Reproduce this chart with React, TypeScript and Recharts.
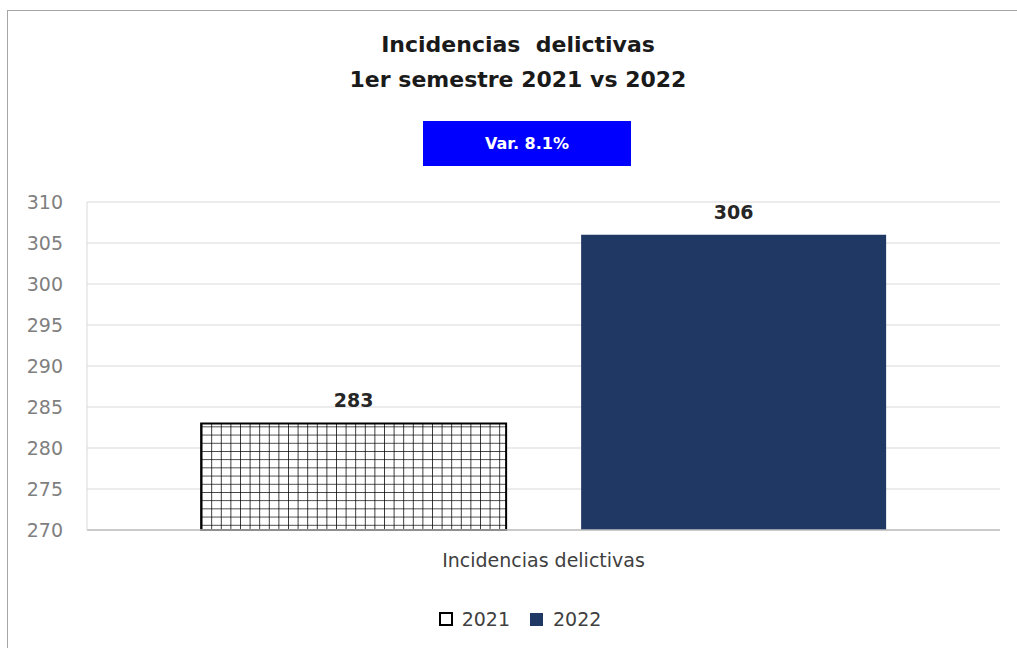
import React from "react";
import { BarChart, Bar, XAxis, YAxis, CartesianGrid, LabelList } from "recharts";

const categories = ["Incidencias delictivas"];
const values2021 = [283];
const values2022 = [306];
const yTicks = [270, 275, 280, 285, 290, 295, 300, 305, 310];
const seriesNames = ["2021", "2022"];
const varLabel = "Var. 8.1%";
const titleLines = ["Incidencias  delictivas", "1er semestre 2021 vs 2022"];

const data = categories.map((c, i) => ({
  name: c,
  y2021: values2021[i],
  y2022: values2022[i],
}));

const FONT = "'DejaVu Sans', 'Open Sans', Arial, sans-serif";
const NAVY = "#203864";

export default function App() {
  return (
    <div
      style={{
        position: "absolute",
        left: 0,
        top: 0,
        width: 1017,
        height: 648,
        overflow: "hidden",
        background: "#fff",
        fontFamily: FONT,
      }}
    >
      {/* frame */}
      <div
        style={{
          position: "absolute",
          left: 7,
          top: 10,
          width: 1100,
          height: 700,
          border: "1.5px solid #a6a6a6",
          boxSizing: "border-box",
        }}
      />
      {/* title */}
      <div
        style={{
          position: "absolute",
          left: 0,
          width: 1036,
          top: 27,
          textAlign: "center",
          fontWeight: 700,
          fontSize: 22,
          lineHeight: "35px",
          color: "#1a1a1a",
          whiteSpace: "pre",
        }}
      >
        {titleLines.map((t) => (
          <div key={t}>{t}</div>
        ))}
      </div>
      {/* variation box */}
      <div
        style={{
          position: "absolute",
          left: 423,
          top: 121,
          width: 208,
          height: 45,
          background: "#0000ff",
          color: "#fff",
          fontWeight: 700,
          fontSize: 16,
          lineHeight: "45px",
          textAlign: "center",
        }}
      >
        {varLabel}
      </div>
      <div style={{ position: "absolute", left: 0, top: 0 }}>
        <BarChart
          width={1017}
          height={648}
          data={data}
          margin={{ top: 202, right: 17, left: 27, bottom: 78 }}
          barCategoryGap="12.5%"
          barGap={75}
        >
          <defs>
            <pattern id="grid2021" patternUnits="userSpaceOnUse" width="9.6" height="8.2">
              <rect width="9.6" height="8.2" fill="#fff" />
              <path d="M0 0 H9.6 M0 0 V8.2" stroke="#000" strokeWidth="1.5" fill="none" />
            </pattern>
          </defs>
          <CartesianGrid vertical={false} stroke="#d9d9d9" strokeWidth={1.2} />
          <XAxis
            dataKey="name"
            height={40}
            tickSize={0}
            tickMargin={24}
            axisLine={{ stroke: "#bfbfbf", strokeWidth: 1.5 }}
            tickLine={false}
            tick={{ fill: "#404040", fontSize: 19, fontFamily: FONT }}
          />
          <YAxis
            width={60}
            domain={[270, 310]}
            ticks={yTicks}
            interval={0}
            tickSize={0}
            tickMargin={24}
            axisLine={{ stroke: "#d9d9d9" }}
            tickLine={false}
            tick={{ fill: "#7f7f7f", fontSize: 19, fontFamily: FONT }}
          />
          <Bar
            dataKey="y2021"
            name={seriesNames[0]}
            fill="url(#grid2021)"
            stroke="#000"
            strokeWidth={2}
            isAnimationActive={false}
          >
            <LabelList
              dataKey="y2021"
              position="top"
              offset={16}
              style={{ fill: "#262626", fontWeight: 700, fontSize: 19, fontFamily: FONT }}
            />
          </Bar>
          <Bar dataKey="y2022" name={seriesNames[1]} fill={NAVY} isAnimationActive={false}>
            <LabelList
              dataKey="y2022"
              position="top"
              offset={16}
              style={{ fill: "#262626", fontWeight: 700, fontSize: 19, fontFamily: FONT }}
            />
          </Bar>
        </BarChart>
      </div>
      {/* legend */}
      <div
        style={{
          position: "absolute",
          left: 0,
          width: 1040,
          top: 606,
          display: "flex",
          justifyContent: "center",
          alignItems: "center",
          fontSize: 19,
          color: "#404040",
          lineHeight: "26px",
        }}
      >
        <span style={{ display: "inline-flex", alignItems: "center", marginRight: 20 }}>
          <span
            style={{
              width: 14,
              height: 14,
              border: "2.5px solid #000",
              boxSizing: "border-box",
              background: "#fff",
              marginRight: 9,
            }}
          />
          {seriesNames[0]}
        </span>
        <span style={{ display: "inline-flex", alignItems: "center" }}>
          <span style={{ width: 13, height: 13, background: NAVY, marginRight: 10 }} />
          {seriesNames[1]}
        </span>
      </div>
    </div>
  );
}
